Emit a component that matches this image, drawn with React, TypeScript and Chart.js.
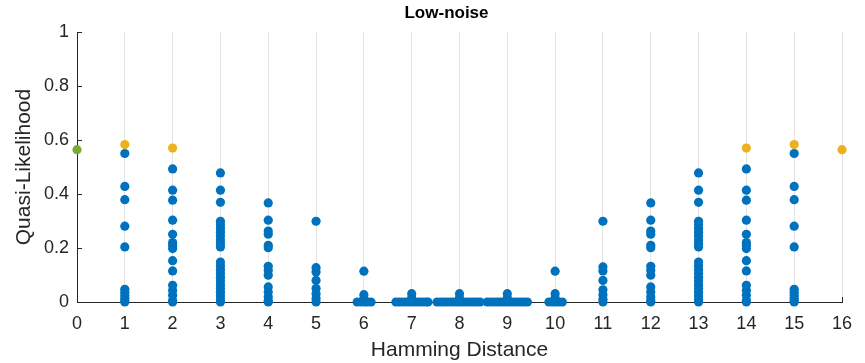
import { useEffect, useRef } from "react";
import { Chart, registerables } from "chart.js";

Chart.register(...registerables);

const chartTitle = "Low-noise";
const xAxisLabel = "Hamming Distance";
const yAxisLabel = "Quasi-Likelihood";
const xMin = 0;
const xMax = 16;
const xStep = 1;
const yMin = 0;
const yMax = 1;
const yStep = 0.2;

// green reference point (distance 0)
const originDistance = [0];
const originValue = [0.564];

// yellow (best) points
const bestDistances = [1, 2, 14, 15, 16];
const bestValues = [0.583, 0.57, 0.57, 0.583, 0.564];

// blue points, grouped by Hamming distance
const d1 = [0.55, 0.428, 0.379, 0.281, 0.204, 0.047, 0.036, 0.025, 0.014, 0.005, 0];
const d2 = [0.493, 0.414, 0.377, 0.303, 0.251, 0.22, 0.21, 0.198, 0.153, 0.115, 0.062, 0.043, 0.025, 0.006, 0];
const d3 = [0.478, 0.414, 0.369, 0.299, 0.286, 0.272, 0.258, 0.244, 0.23, 0.216, 0.204, 0.148, 0.134, 0.12, 0.106, 0.092, 0.078, 0.064, 0.05, 0.036, 0.022, 0.008, 0];
const d4 = [0.367, 0.303, 0.263, 0.251, 0.21, 0.201, 0.132, 0.117, 0.099, 0.056, 0.037, 0.019, 0.006, 0];
const d5 = [0.299, 0.127, 0.111, 0.08, 0.05, 0.031, 0.013, 0];
const d6 = [0.114, 0.027, 0.013];
const d7 = [0.031, 0.015];
const d8 = [0.031, 0.015];
const d9 = [0.031, 0.015];
const d10 = [0.114, 0.031, 0.015];
const d11 = [0.299, 0.13, 0.115, 0.08, 0.045, 0.027, 0.01, 0];
const d12 = [0.367, 0.303, 0.263, 0.251, 0.21, 0.201, 0.132, 0.117, 0.099, 0.056, 0.037, 0.019, 0.006, 0];
const d13 = [0.478, 0.414, 0.369, 0.299, 0.286, 0.272, 0.258, 0.244, 0.23, 0.216, 0.204, 0.148, 0.134, 0.12, 0.106, 0.092, 0.078, 0.064, 0.05, 0.036, 0.022, 0.008, 0];
const d14 = [0.493, 0.414, 0.377, 0.303, 0.251, 0.22, 0.21, 0.198, 0.153, 0.115, 0.062, 0.043, 0.025, 0.006, 0];
const d15 = [0.55, 0.428, 0.379, 0.281, 0.204, 0.047, 0.036, 0.025, 0.014, 0.005, 0];

const blueColumns: [number, number[]][] = [
  [1, d1], [2, d2], [3, d3], [4, d4], [5, d5], [6, d6], [7, d7], [8, d8],
  [9, d9], [10, d10], [11, d11], [12, d12], [13, d13], [14, d14], [15, d15],
];

// swarm-spread points lying at zero (x positions as drawn)
const swarmZeroX = [
  5.86, 5.94, 6.02, 6.08, 6.15,
  6.67, 6.74, 6.81, 6.88, 6.95, 7.02, 7.09, 7.16, 7.23, 7.3, 7.34,
  7.53, 7.6, 7.67, 7.74, 7.81, 7.88, 7.95, 8.02, 8.09, 8.16, 8.23, 8.3, 8.37, 8.43,
  8.58, 8.65, 8.72, 8.79, 8.86, 8.93, 9.0, 9.07, 9.14, 9.21, 9.28, 9.35, 9.42,
  9.87, 9.94, 10.01, 10.08, 10.15,
];
const swarmZeroY = 0;

const BLUE = "#0072BD";
const YELLOW = "#EDB120";
const GREEN = "#77AC30";
const AXIS = "#262626";
const GRID = "#e3e3e3";
const FONT = '"Liberation Sans", Arial, Helvetica, sans-serif';

export default function App() {
  const ref = useRef<HTMLCanvasElement | null>(null);

  useEffect(() => {
    if (!ref.current) return;

    const bluePoints: { x: number; y: number }[] = [];
    blueColumns.forEach(([x, ys]) => ys.forEach((y) => bluePoints.push({ x, y })));
    swarmZeroX.forEach((x) => bluePoints.push({ x, y: swarmZeroY }));

    const decor = {
      id: "matlabDecor",
      beforeDatasetsDraw(chart: any) {
        const { ctx, chartArea, scales } = chart;
        ctx.save();
        ctx.strokeStyle = AXIS;
        ctx.lineWidth = 1;
        ctx.beginPath();
        scales.y.ticks.forEach((t: any) => {
          const y = Math.round(scales.y.getPixelForValue(t.value)) + 0.5;
          ctx.moveTo(chartArea.left, y);
          ctx.lineTo(chartArea.left + 5, y);
        });
        scales.x.ticks.forEach((t: any) => {
          const x = Math.round(scales.x.getPixelForValue(t.value)) + 0.5;
          ctx.moveTo(x, chartArea.bottom);
          ctx.lineTo(x, chartArea.bottom - 5);
        });
        ctx.stroke();
        ctx.restore();
      },
      afterDraw(chart: any) {
        const { ctx, chartArea } = chart;
        ctx.save();
        ctx.fillStyle = "#000000";
        ctx.font = `bold 17px ${FONT}`;
        ctx.textAlign = "center";
        ctx.textBaseline = "middle";
        ctx.fillText(chartTitle, (chartArea.left + chartArea.right) / 2 - 13, 13);
        ctx.restore();
      },
    };

    const chart = new Chart(ref.current, {
      type: "scatter",
      data: {
        datasets: [
          {
            label: "best",
            data: bestDistances.map((x, i) => ({ x, y: bestValues[i] })),
            backgroundColor: YELLOW,
            borderColor: YELLOW,
            pointRadius: 4.6,
            borderWidth: 0,
            clip: false as any,
          },
          {
            label: "origin",
            data: originDistance.map((x, i) => ({ x, y: originValue[i] })),
            backgroundColor: GREEN,
            borderColor: GREEN,
            pointRadius: 4.6,
            borderWidth: 0,
            clip: false as any,
          },
          {
            label: "neighbors",
            data: bluePoints,
            backgroundColor: BLUE,
            borderColor: BLUE,
            pointRadius: 4.6,
            borderWidth: 0,
            clip: false as any,
          },
        ],
      },
      options: {
        responsive: false,
        animation: false,
        layout: { padding: { top: 32, right: 23, left: 0, bottom: 0 } },
        plugins: {
          legend: { display: false },
          tooltip: { enabled: false },
          title: { display: false },
        },
        scales: {
          x: {
            type: "linear",
            min: xMin,
            max: xMax,
            afterFit: (s: any) => {
              s.height = 61;
            },
            ticks: {
              stepSize: xStep,
              color: AXIS,
              font: { family: FONT, size: 18 },
              padding: 11,
              maxRotation: 0,
              autoSkip: false,
            },
            grid: {
              drawTicks: false,
              color: (c: any) => (c.tick && c.tick.value === 0 ? "rgba(0,0,0,0)" : GRID),
              lineWidth: 1,
            },
            border: { display: true, color: AXIS, width: 1 },
            title: {
              display: true,
              text: xAxisLabel,
              color: AXIS,
              font: { family: FONT, size: 21 },
              padding: { top: 2, bottom: 0 },
            },
          },
          y: {
            type: "linear",
            min: yMin,
            max: yMax,
            afterFit: (s: any) => {
              s.width = 77;
            },
            ticks: {
              stepSize: yStep,
              color: AXIS,
              font: { family: FONT, size: 18 },
              padding: 8,
              callback: (v: any) => String(Number(Number(v).toFixed(1))),
            },
            grid: { drawTicks: false, drawOnChartArea: false },
            border: { display: true, color: AXIS, width: 1 },
            title: {
              display: true,
              text: yAxisLabel,
              color: AXIS,
              font: { family: FONT, size: 21 },
              padding: { top: 12, bottom: 0 },
            },
          },
        },
      },
      plugins: [decor],
    });

    return () => chart.destroy();
  }, []);

  return (
    <div style={{ position: "fixed", left: 0, top: 0, width: 865, height: 363, background: "#ffffff" }}>
      <canvas ref={ref} width={865} height={363} style={{ display: "block" }} />
    </div>
  );
}
